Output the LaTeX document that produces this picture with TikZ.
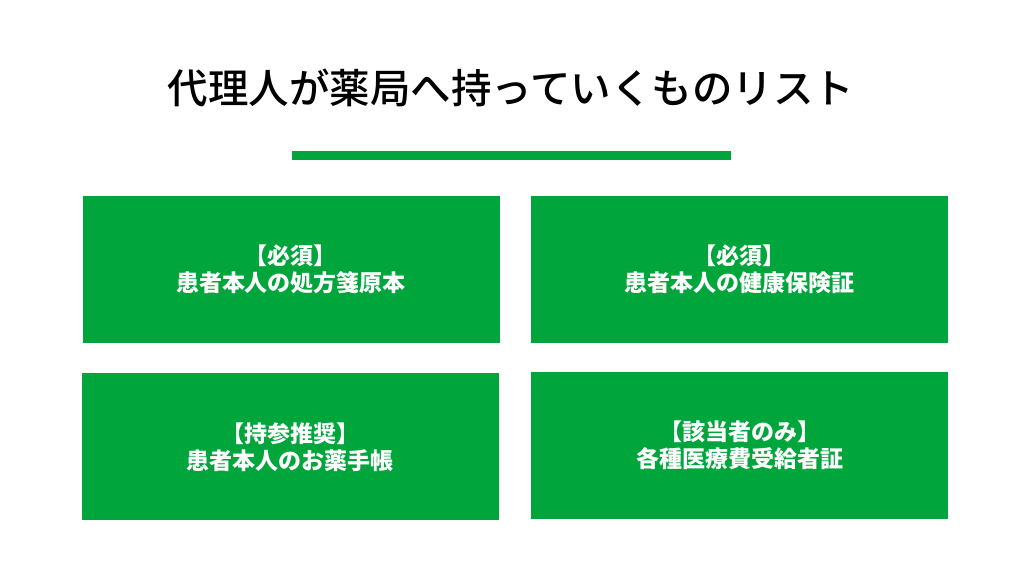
\documentclass[tikz,border=0pt]{standalone}
\usepackage{fontspec}
\setmainfont{Noto Sans CJK JP}
\newfontfamily\titlefont{Noto Sans CJK JP Medium}
\definecolor{itemgreen}{HTML}{00A63C}

\begin{document}
\begin{tikzpicture}[x=0.5pt, y=-0.5pt]
	\useasboundingbox (0,0) rectangle (1024,576);
	\tikzset{every item/.style={fill=itemgreen, text=white, align=center, inner sep=0pt,
			minimum width=208.5pt, minimum height=73.5pt,
			font=\fontsize{11.5}{13.5}\selectfont\bfseries}}
	
	\node [font=\fontsize{20.25}{24}\titlefont] (title) at (511,88) {代理人が薬局へ持っていくものリスト};
	
	\node [fill=itemgreen, inner sep=0pt, minimum width=219.5pt, minimum height=4.5pt] (bar) at (511.5,155.5) {};
	
	\foreach \m/\x/\y/\l in {1/291/269.5/{【必須】\\患者本人の処方箋原本},
		2/739/269.5/{【必須】\\患者本人の健康保険証},
		3/290/447/{【持参推奨】\\患者本人のお薬手帳},
		4/739.5/445.5/{【該当者のみ】\\各種医療費受給者証}}
	\node [every item/.try] (item-\m) at (\x,\y) {\l};
	
\end{tikzpicture}
\end{document}
